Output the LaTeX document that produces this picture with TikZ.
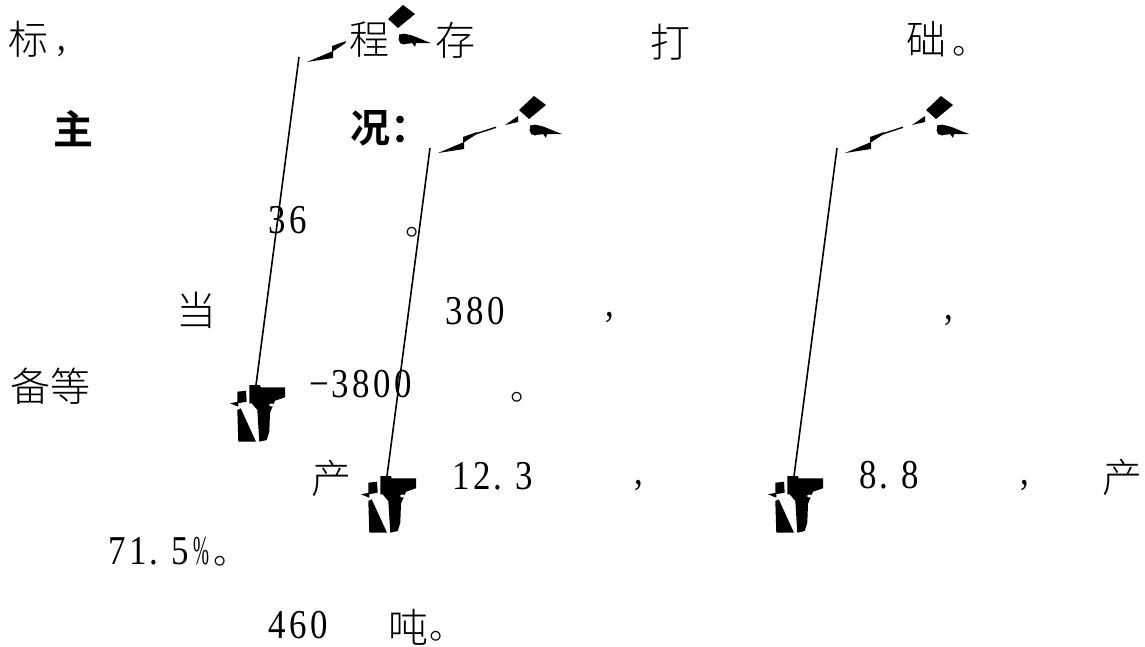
\documentclass[tikz,border=0pt]{standalone}
\usepackage{fontspec}
\newfontfamily\cjk{Noto Sans CJK SC Light}[BoldFont={Noto Sans CJK SC Bold}]
\newfontfamily\dig{Liberation Serif}[FakeStretch=0.85]
\newcommand\cl[1]{\makebox[21pt]{#1}}
\newcommand\cp{\makebox[21pt][l]{\hspace{1pt}.}}
\tikzset{
  hz/.style={inner sep=0pt, font=\cjk\fontsize{40}{40}\selectfont},
  hzb/.style={inner sep=0pt, font=\cjk\bfseries\fontsize{40}{40}\selectfont},
  num/.style={inner sep=0pt, font=\dig\fontsize{41}{41}\selectfont},
  stopmark/.style={inner sep=0pt, xshift=9.5pt, font=\cjk\fontsize{34}{34}\selectfont},
  flagbase/.pic={
    \draw[line width=1.6pt] (0,0) -- (-43,328);
    \fill (8,5) -- (34,-6) -- (34,1) -- cycle;
    \fill (33,-5) -- (33,-11) -- (47,-16) -- (46,-13.5) -- cycle;
    \fill (104,-52) -- (116,-43) -- (99,-29) -- (89,-38) -- cycle;
    \fill (105,-18) circle (5.5);
    \fill (100,-22.5) .. controls (110,-25) and (120,-18) .. (132,-14) -- (117,-14) -- (116,-10) -- (113,-14) .. controls (108,-13) .. (101,-14) -- cycle;
    \fill (-49.7,328) -- (-39,328) -- (-38.3,330.3) -- (-14,330.3) -- (-14,340.3) -- (-24,343.7) -- (-29,355.7) -- (-29.7,374.7) -- (-32.3,383) -- (-39.7,384.7) -- (-41.7,353) -- (-47.3,346.3) -- (-49.7,346.3) -- cycle;
    \fill (-61.7,353) -- (-58.3,351.3) -- (-43,384.7) -- (-60.7,384.7) -- cycle;
    \fill (-61.7,334.7) -- (-53,333.7) -- (-52.3,344.7) -- (-61.7,346.3) -- cycle;
    \fill (-69,346.3) -- (-60.7,344.7) -- (-60.7,349.7) -- cycle;
    \fill[white] (-27.3,348) ellipse (2.5 and 1.5);
  },
  flagshort/.pic={\pic {flagbase};},
  flagfull/.pic={
    \pic {flagbase};
    \fill (46,-15) -- (66,-21.5) -- (66,-20) -- (46,-13.5) -- cycle;
    \fill (75,-23) -- (88,-32) -- (88,-26) -- cycle;
  }
}
\begin{document}
\begin{tikzpicture}[x=1pt,y=-1pt]
\useasboundingbox[fill=white] (0,0) rectangle (1145,646);
% leaders
\pic at (299,57) {flagshort};
\pic at (430,148) {flagfull};
\pic at (837,148) {flagfull};
% row 1
\node[hz] (t1) at (28.5,39) {标};
\node[num] (c1) at (61.5,51.5) {,};
\node[hz] (t2) at (369.5,40) {程};
\node[hz] (t3) at (455,40) {存};
\node[hz] (t4) at (670.5,42) {打};
\node[hz] (t5) at (926.5,39) {础};
\node[stopmark] (s1) at (959.5,51) {。};
% row 2
\node[hzb] (t6) at (73,128.5) {主};
\node[hzb, anchor=west] (t7) at (350,128.5) {况：};
% row 3
\node[num] (n1) at (287.5,220) {\cl{3}\cl{6}};
\node[stopmark] (s2) at (413,232) {。};
% row 4
\node[hz] (t8) at (196,310) {当};
\node[num] (n2) at (475,311) {\cl{3}\cl{8}\cl{0}};
\node[num] (c2) at (610,318) {,};
\node[num] (c3) at (948.5,321) {,};
% row 5
\node[hz] (t9) at (50.5,386) {备等};
\node[num] (n3) at (361,384) {\cl{−}\cl{3}\cl{8}\cl{0}\cl{0}};
\node[stopmark] (s3) at (518,397) {。};
% row 6
\node[hz] (t10) at (331,478) {产};
\node[num] (n4) at (492.5,476) {\cl{1}\cl{2}\cp\cl{3}};
\node[num] (c4) at (638.5,486) {,};
\node[num] (n5) at (889,475) {\cl{8}\cp\cl{8}};
\node[num] (c5) at (1025,486) {,};
\node[hz] (t11) at (1122.5,477.5) {产};
% row 7
\node[num] (n6) at (159.5,551) {\cl{7}\cl{1}\cp\cl{5}\cl{\scalebox{0.55}[1]{\%}}};
\node[stopmark] (s4) at (221,561) {。};
% row 8
\node[num] (n7) at (298.5,625) {\cl{4}\cl{6}\cl{0}};
\node[hz] (t12) at (408,627) {吨};
\node[stopmark] (s5) at (437,636) {。};
\end{tikzpicture}
\end{document}
